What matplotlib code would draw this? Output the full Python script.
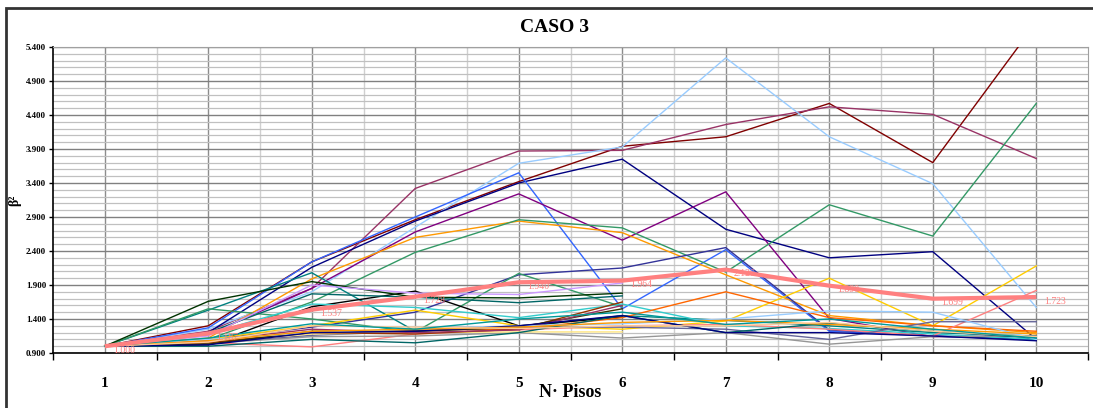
import matplotlib.pyplot as plt
from matplotlib.patches import Rectangle
from matplotlib.ticker import MultipleLocator, FixedLocator, NullFormatter

plt.rcParams['font.family'] = ['Liberation Serif', 'DejaVu Serif']
plt.rcParams['font.weight'] = 'bold'

pisos = [1, 2, 3, 4, 5, 6, 7, 8, 9, 10]
y_ticks = [0.9, 1.4, 1.9, 2.4, 2.9, 3.4, 3.9, 4.4, 4.9, 5.4]

# individual cases (beta^2 per number of floors)
maroon = [1.0, 1.30, 2.24, 2.86, 3.42, 3.94, 4.08, 4.57, 3.70, 5.76]
plum = [1.0, 1.22, 1.85, 3.32, 3.87, 3.88, 4.26, 4.52, 4.41, 3.76]
skyblue = [1.0, 1.25, 1.80, 2.75, 3.69, 3.93, 5.24, 4.08, 3.39, 1.57]
navy = [1.0, 1.20, 2.16, 2.84, 3.40, 3.75, 2.72, 2.30, 2.39, 1.10]
blue = [1.0, 1.27, 2.24, 2.90, 3.55, 1.55, 2.42, 1.22, 1.15, 1.10]
purple = [1.0, 1.17, 1.85, 2.68, 3.24, 2.56, 3.27, 1.41, 1.14, 1.15]
orange = [1.0, 1.12, 1.99, 2.60, 2.84, 2.67, 2.05, 1.45, 1.30, 1.20]
seagreen = [1.0, 1.10, 1.65, 2.38, 2.86, 2.74, 2.09, 3.08, 2.62, 4.57]
slate = [1.0, 1.10, 1.28, 1.50, 2.05, 2.15, 2.45, 1.24, 1.15, 1.10]
teal = [1.0, 1.53, 2.08, 1.22, 1.28, 1.45, 1.38, 1.30, 1.20, 1.15]
greenzig = [1.0, 1.55, 1.40, 1.21, 2.07, 1.58]
black = [1.0, 1.02, 1.58, 1.81, 1.30, 1.43]
darkgreen = [1.0, 1.66, 1.95, 1.72, 1.71, 1.78]
teal2 = [1.0, 1.20, 1.77, 1.72, 1.64, 1.74]
lavender = [1.0, 1.15, 1.90, 1.78, 1.76, 1.93]
turquoise = [1.0, 1.18, 1.62, 1.57, 1.42, 1.62, 1.30, 1.26, 1.18, 1.10]
gold = [1.0, 1.10, 1.30, 1.53, 1.30, 1.25, 1.37, 2.00, 1.30, 2.18]
orangered = [1.0, 1.06, 1.20, 1.24, 1.25, 1.42, 1.80, 1.42, 1.30, 1.22]
pink = [1.0, 1.05, 0.99, 1.18, 1.24, 1.30, 1.32, 1.25, 1.15, 1.82]
gray = [1.0, 1.04, 1.14, 1.15, 1.20, 1.12, 1.20, 1.03, 1.14, 1.15]
slategray = [1.0, 1.05, 1.16, 1.22, 1.28, 1.28, 1.25, 1.10, 1.36, 1.36]
lightyellow = [1.0, 1.06, 1.18, 1.20, 1.21, 1.21]
brown = [1.0, 1.05, 1.20, 1.18, 1.25, 1.65]
olive = [1.0, 1.03, 1.22, 1.22, 1.28, 1.55]
violet = [1.0, 1.08, 1.25, 1.20, 1.24, 1.60]
darkteal = [1.0, 1.0, 1.10, 1.05, 1.20, 1.45, 1.20, 1.34, 1.22, 1.12]
paleblue = [1.0, 1.10, 1.20, 1.25, 1.30, 1.33, 1.40, 1.52, 1.50, 1.10]
navy2 = [1.0, 1.02, 1.20, 1.22, 1.30, 1.45, 1.20, 1.20, 1.15, 1.08]
orange2 = [1.0, 1.08, 1.22, 1.25, 1.28, 1.35, 1.38, 1.32, 1.25, 1.18]
tan = [1.0, 1.06, 1.30, 1.28, 1.26, 1.30, 1.30, 1.35, 1.22, 1.14]
cyanteal = [1.0, 1.12, 1.33, 1.25, 1.40, 1.50, 1.32, 1.40, 1.25, 1.12]

# average curve
promedio = [1.000, 1.187, 1.537, 1.728, 1.940, 1.964, 2.126, 1.890, 1.699, 1.723]

series = [
    (maroon, '#800000'), (plum, '#993366'), (skyblue, '#99CCFF'),
    (navy, '#000080'), (blue, '#3366FF'), (purple, '#800080'),
    (orange, '#FF9900'), (seagreen, '#339966'), (slate, '#333399'),
    (teal, '#008080'), (greenzig, '#339966'), (black, '#000000'),
    (darkgreen, '#003300'), (teal2, '#006666'), (lavender, '#CC99FF'),
    (turquoise, '#33CCCC'), (gold, '#FFCC00'), (orangered, '#FF6600'),
    (pink, '#FF8080'), (gray, '#969696'), (slategray, '#666699'),
    (lightyellow, '#FFE680'), (brown, '#993300'), (olive, '#333300'),
    (violet, '#993366'), (darkteal, '#006666'), (paleblue, '#99CCFF'),
    (navy2, '#000080'), (orange2, '#FF9900'), (tan, '#FFCC99'),
    (cyanteal, '#009999'),
]

fig = plt.figure(figsize=(10.93, 4.08), dpi=100)
ax = fig.add_axes([53 / 1093, 55 / 408, 1035 / 1093, 306 / 408])

for vals, col in series:
    ax.plot(pisos[:len(vals)], vals, color=col, lw=1.0, zorder=3)

ax.plot(pisos, promedio, color='#FF8080', lw=3.0, zorder=4, solid_capstyle='butt')
for x, v in zip(pisos, promedio):
    ax.annotate(f"{v:.3f}", (x, v), xytext=(6, -3), textcoords='offset points',
                fontsize=7, color='#FF8080', va='center', ha='left',
                fontweight='normal', zorder=5)

ax.set_xlim(0.5, 10.5)
ax.set_ylim(0.9, 5.4)

# y axis
ax.yaxis.set_major_locator(FixedLocator(y_ticks))
ax.yaxis.set_minor_locator(MultipleLocator(0.1))
ax.yaxis.set_major_formatter(plt.FuncFormatter(lambda v, p: f"{v:.3f}"))
ax.grid(which='major', axis='y', color='#808080', lw=1.0, zorder=1)
ax.grid(which='minor', axis='y', color='#C0C0C0', lw=0.9, zorder=1)
ax.tick_params(axis='y', which='major', labelsize=6.5, length=3, width=1, pad=2)
ax.tick_params(axis='y', which='minor', length=0)

# x axis: category labels, tick marks between categories
for x in pisos:
    ax.axvline(x, color='#8C8C8C', lw=1.0, zorder=1)
for x in [p + 0.5 for p in pisos[:-1]]:
    ax.axvline(x, color='#D0D0D0', lw=1.0, zorder=1)
ax.xaxis.set_major_locator(FixedLocator([p - 0.5 for p in pisos] + [10.5]))
ax.xaxis.set_major_formatter(NullFormatter())
ax.xaxis.set_minor_locator(FixedLocator(pisos))
ax.set_xticklabels([str(p) for p in pisos], minor=True)
ax.tick_params(axis='x', which='major', length=5, width=1)
ax.tick_params(axis='x', which='minor', length=0, labelsize=11, pad=17)

for s in ['left', 'bottom']:
    ax.spines[s].set_color('black')
    ax.spines[s].set_linewidth(1.2)
for s in ['top', 'right']:
    ax.spines[s].set_color('#A0A0A0')

ax.set_xlabel('N· Pisos', fontsize=13, fontweight='bold', labelpad=-4)
fig.text(15 / 1093, 1 - 200 / 408, 'β²', rotation=90, fontsize=10,
         fontweight='bold', ha='center', va='center')
fig.text(555 / 1093, 1 - 28 / 408, 'CASO 3', fontsize=14, fontweight='bold',
         ha='center', va='center')

fig.patches.append(Rectangle((6 / 1093, -0.1), 1.2, 1 - 8 / 408 + 0.1,
                             transform=fig.transFigure, fill=False,
                             ec='#333333', lw=2))

fig.savefig('out.png', dpi=100)
